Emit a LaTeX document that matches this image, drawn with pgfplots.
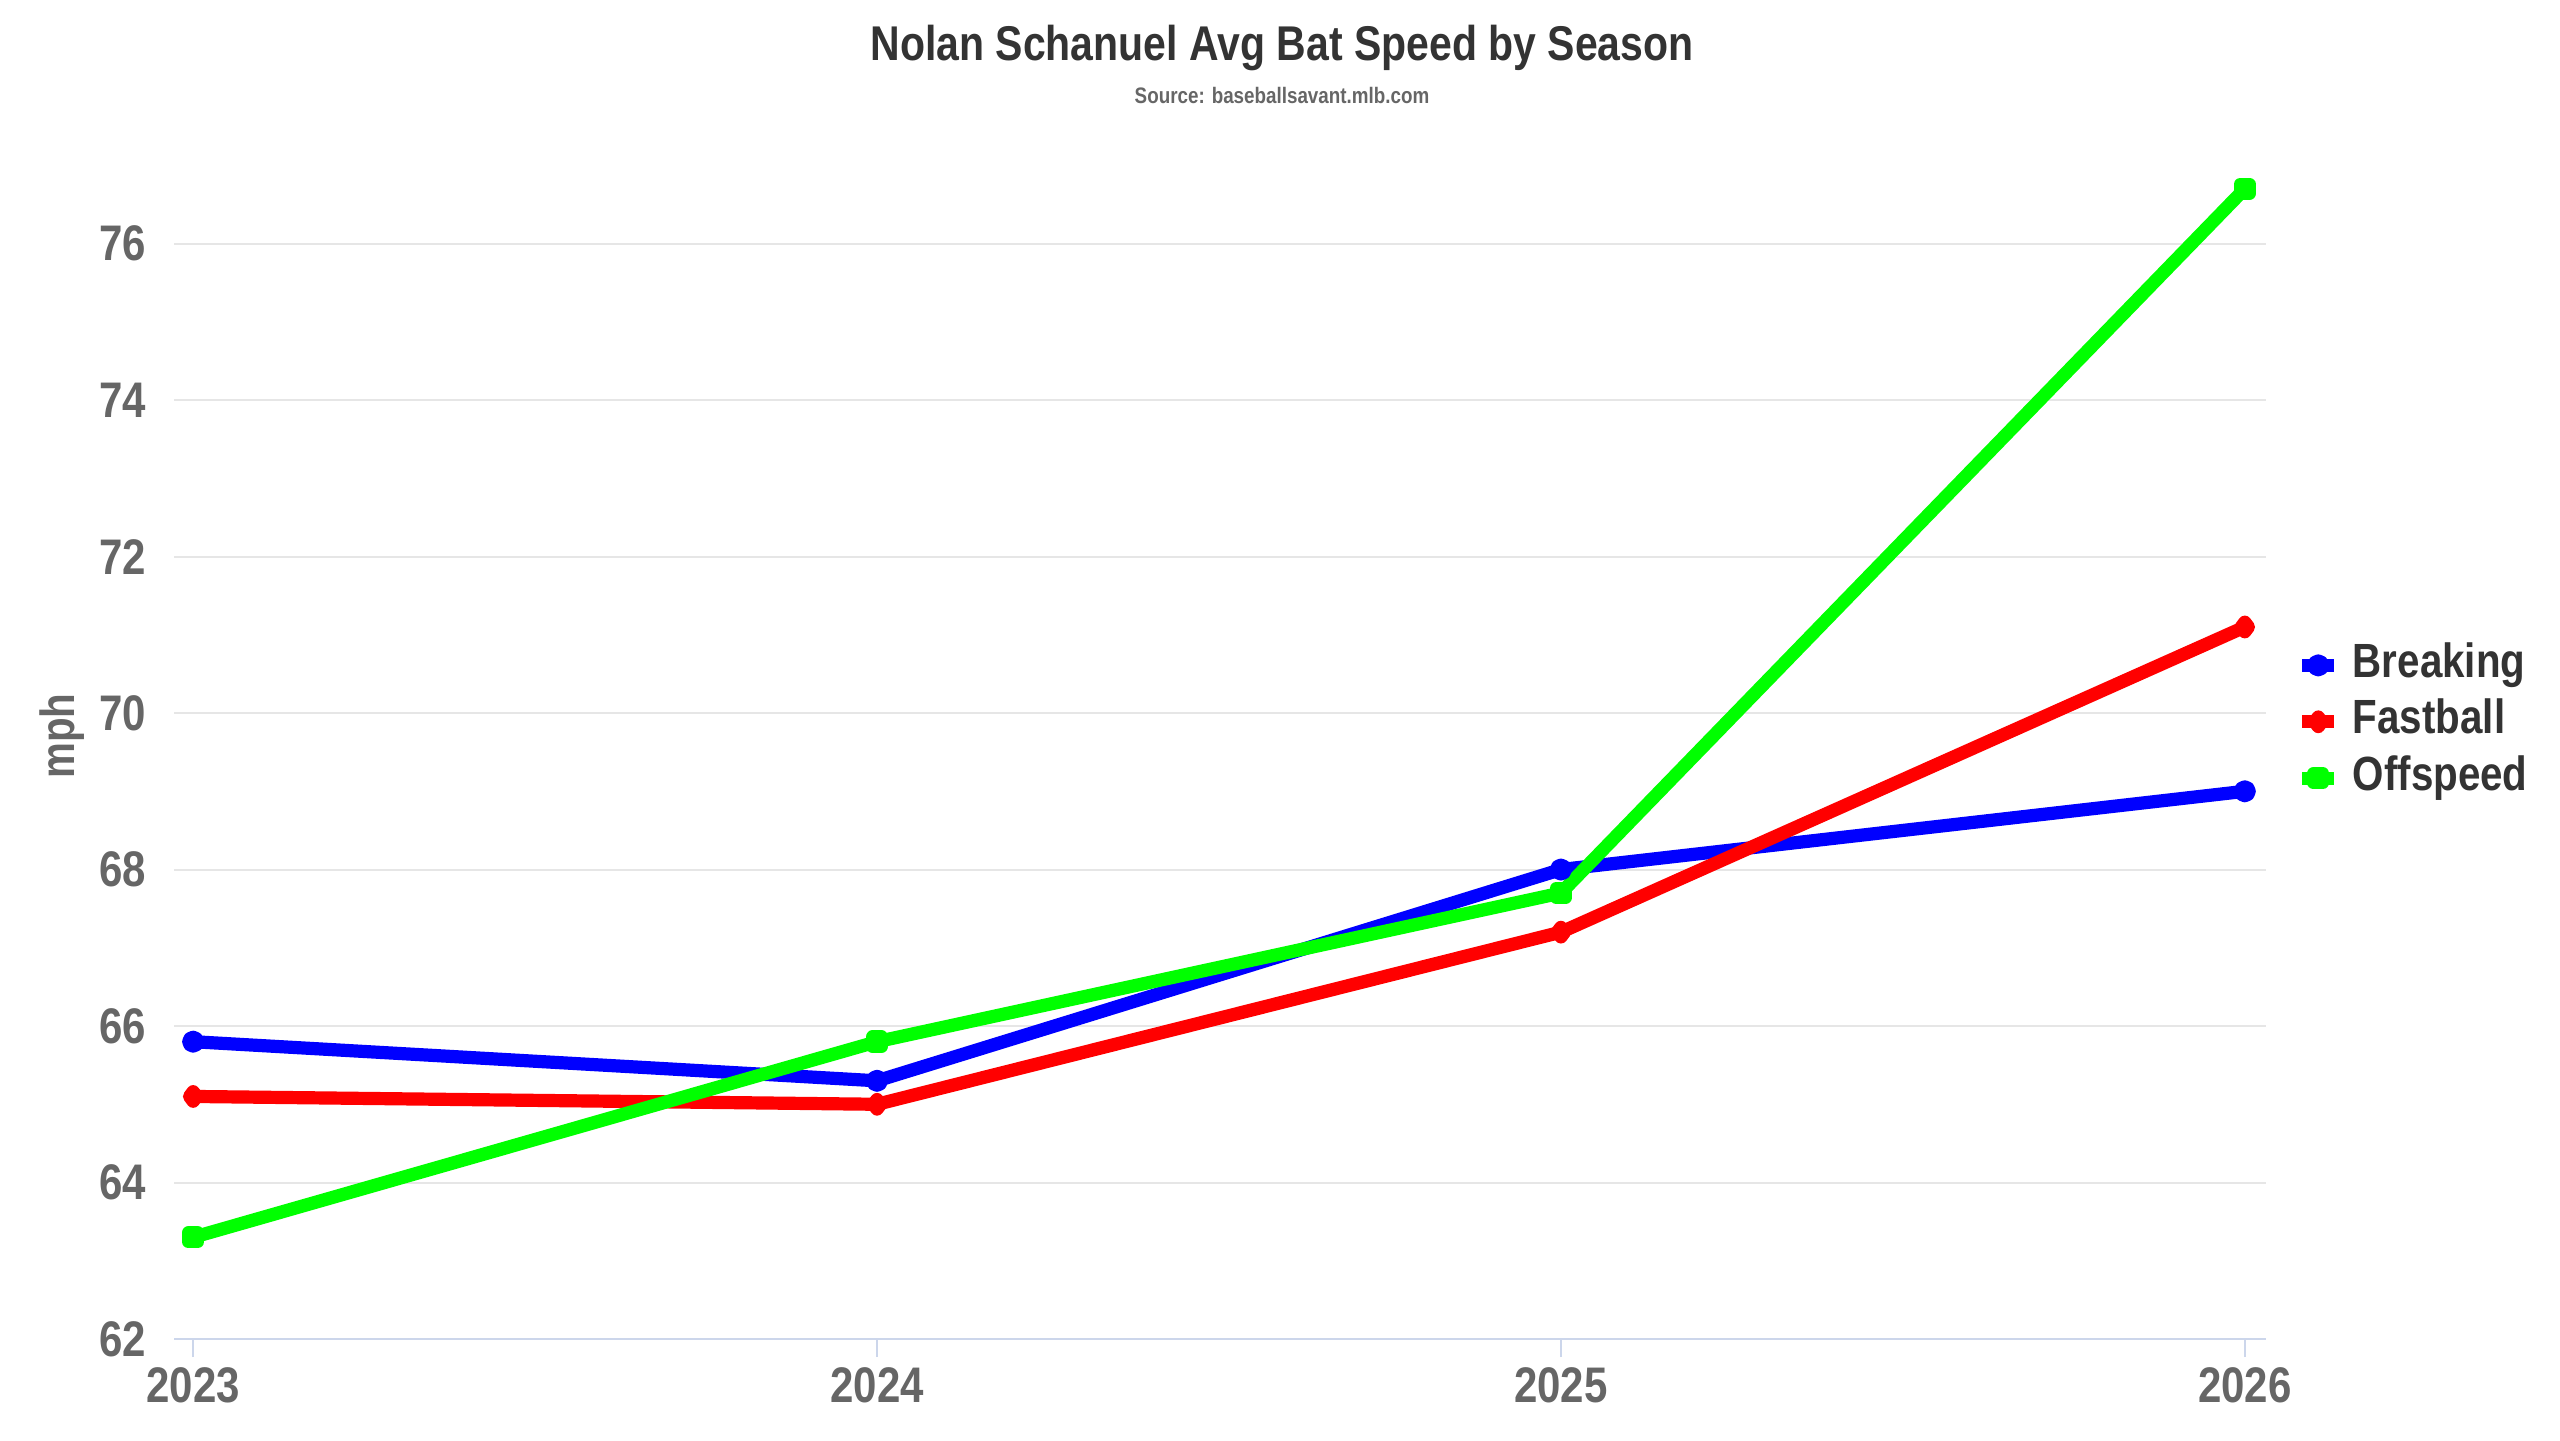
\documentclass[border=0pt]{standalone}
\usepackage{fontspec}
\setmainfont{Liberation Sans}[FakeStretch=0.84]
\usepackage{pgfplots}
\pgfplotsset{compat=1.18}
\definecolor{titlegray}{HTML}{333333}
\definecolor{labelgray}{HTML}{666666}
\definecolor{gridgray}{HTML}{E6E6E6}
\definecolor{axisblue}{HTML}{CCD6EB}
\definecolor{cBreak}{HTML}{0000FF}
\definecolor{cFast}{HTML}{FF0000}
\definecolor{cOff}{HTML}{00FF00}

\begin{document}
\begin{tikzpicture}
\path[use as bounding box] (0,0) rectangle (640pt,360pt);
\node[anchor=base, font=\bfseries\fontsize{12.2}{14}\selectfont, text=titlegray]
  at (320.5pt,345pt) {Nolan Schanuel Avg Bat Speed by Season};
\node[anchor=base, font=\bfseries\fontsize{5.6}{7}\selectfont, text=labelgray]
  at (320.5pt,334.25pt) {Source: baseballsavant.mlb.com};
\begin{axis}[
  at={(43.5pt,25.25pt)}, anchor=south west,
  scale only axis, width=523pt, height=289.5pt,
  xmin=2022.972, xmax=2026.031,
  ymin=62, ymax=76.8,
  xtick={2023,2024,2025,2026},
  ytick={62,64,...,76},
  xticklabel={\pgfmathprintnumber[1000 sep={}]{\tick}},
  /pgf/number format/assume math mode=true,
  ymajorgrids,
  major grid style={gridgray, line width=0.5pt},
  axis x line*=bottom,
  axis y line*=left,
  x axis line style={axisblue, line width=0.5pt},
  y axis line style={draw=none},
  xtick style={axisblue, line width=0.5pt},
  major tick length=4.5pt,
  tick align=outside,
  ytick style={draw=none},
  ticklabel style={font=\bfseries\fontsize{12.5}{14}\selectfont, text=labelgray},
  xticklabel style={anchor=base, inner sep=0pt, yshift=-11.3pt},
  yticklabel style={anchor=east, inner xsep=0pt, xshift=-2.3pt},
  ylabel={mph},
  ylabel style={at={(axis description cs:-0.0535,0.5207)}, anchor=center,
    font=\bfseries\fontsize{12}{14}\selectfont, text=labelgray},
  clip=false,
  legend style={at={(axis description cs:1.0138,0.533)}, anchor=west,
    draw=none, fill=none, inner sep=0pt,
    font=\bfseries\fontsize{12}{14}\selectfont, text=titlegray,
    nodes={inner sep=0pt, text height=9pt, text depth=3pt},
    row sep=2.1pt, column sep=3pt},
  legend cell align=left,
  legend image code/.code={
    \draw[#1, line width=3.3pt, mark=none] (0pt,0pt) -- (8pt,0pt);
    \draw[#1, mark repeat=2, mark phase=2] plot coordinates {(0pt,0pt) (4pt,0pt) (8pt,0pt)};
  },
  line join=round,
]
\addplot[cBreak, line width=3.3pt, mark=*, mark size=1.1pt, mark options={solid, fill=cBreak, draw=none}]
  coordinates {(2023,65.8) (2024,65.3) (2025,68.0) (2026,69.0)};
\addplot[cFast, line width=3.3pt, mark=diamond*, mark size=1.2pt, mark options={solid, fill=cFast, draw=none}]
  coordinates {(2023,65.1) (2024,65.0) (2025,67.2) (2026,71.1)};
\addplot[cOff, line width=3.3pt, mark=square*, mark size=1.15pt, mark options={solid, fill=cOff, draw=none}]
  coordinates {(2023,63.3) (2024,65.8) (2025,67.7) (2026,76.7)};
\legend{Breaking, Fastball, Offspeed}
\end{axis}
\end{tikzpicture}
\end{document}
